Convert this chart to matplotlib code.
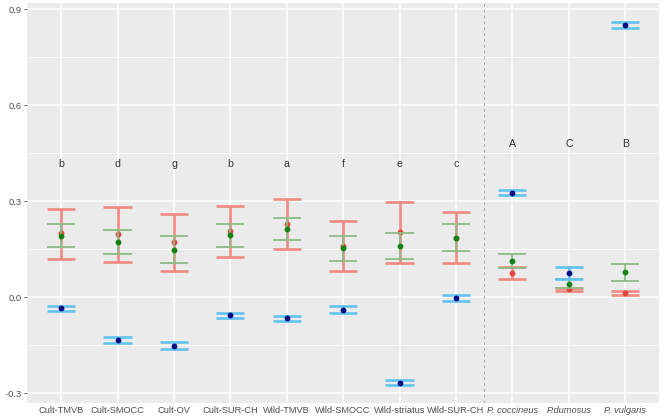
import matplotlib
matplotlib.use("Agg")
import matplotlib.pyplot as plt
import numpy as np

categories = ['Cult-TMVB', 'Cult-SMOCC', 'Cult-OV', 'Cult-SUR-CH', 'Wild-TMVB',
              'Wild-SMOCC', 'Wild-striatus', 'Wild-SUR-CH',
              'P. coccineus', 'P.dumosus', 'P. vulgaris']
italic_flags = [False] * 8 + [True] * 3

red_mean = [0.199, 0.196, 0.171, 0.205, 0.227, 0.159, 0.202, 0.185, 0.076, 0.024, 0.012]
red_lo = [0.119, 0.111, 0.081, 0.126, 0.150, 0.080, 0.107, 0.105, 0.057, 0.019, 0.006]
red_hi = [0.276, 0.281, 0.260, 0.284, 0.305, 0.238, 0.298, 0.266, 0.094, 0.028, 0.018]

green_mean = [0.192, 0.172, 0.148, 0.194, 0.212, 0.153, 0.160, 0.185, 0.112, 0.042, 0.078]
green_lo = [0.155, 0.134, 0.107, 0.157, 0.179, 0.113, 0.118, 0.143, 0.092, 0.029, 0.051]
green_hi = [0.227, 0.210, 0.190, 0.229, 0.246, 0.192, 0.201, 0.227, 0.135, 0.058, 0.104]

blue_mean = [-0.035, -0.133, -0.152, -0.057, -0.066, -0.040, -0.268, -0.004, 0.326, 0.075, 0.851]
blue_lo = [-0.043, -0.143, -0.163, -0.066, -0.074, -0.050, -0.276, -0.013, 0.318, 0.057, 0.841]
blue_hi = [-0.027, -0.124, -0.141, -0.050, -0.058, -0.028, -0.258, 0.006, 0.335, 0.094, 0.861]

letters = ['b', 'd', 'g', 'b', 'a', 'f', 'e', 'c', 'A', 'C', 'B']
letter_y = [0.416] * 8 + [0.478] * 3

y_ticks = [-0.3, 0.0, 0.3, 0.6, 0.9]
y_minor = [-0.15, 0.15, 0.45, 0.75]

plt.rcParams['font.family'] = ['Liberation Sans', 'DejaVu Sans']

W, H = 666, 418
fig = plt.figure(figsize=(W / 100, H / 100), dpi=100)
left, right, top, bottom = 27.3, 659, 3, 402.7
ax = fig.add_axes([left / W, (H - bottom) / H, (right - left) / W, (bottom - top) / H])
ax.set_facecolor('#EBEBEB')
for s in ax.spines.values():
    s.set_visible(False)

x = np.arange(1, len(categories) + 1)
ax.set_xlim(0.4, len(categories) + 0.6)
ax.set_ylim(-0.330, 0.919)

# grid
for yv in y_minor:
    ax.axhline(yv, color='white', lw=0.55, zorder=0)
for yv in y_ticks:
    ax.axhline(yv, color='white', lw=1.1, zorder=0)
for xv in x:
    ax.axvline(xv, color='white', lw=1.1, zorder=0)

ax.axvline(8.5, color='#A8A8A8', lw=0.7, ls=(0, (3, 3)), zorder=1)

hw = 0.25

def draw_series(mean, lo, hi, line_col, pt_col, lw, z):
    ax.vlines(x, lo, hi, color=line_col, lw=lw, zorder=z)
    ax.hlines(lo, x - hw, x + hw, color=line_col, lw=lw, zorder=z)
    ax.hlines(hi, x - hw, x + hw, color=line_col, lw=lw, zorder=z)
    ax.plot(x, mean, 'o', color=pt_col, ms=4.2, mec='none', zorder=z + 0.5)

draw_series(red_mean, red_lo, red_hi, '#F08A82', '#E6453A', 1.9, 2)
draw_series(green_mean, green_lo, green_hi, '#8DBB86', '#138313', 1.3, 3)
draw_series(blue_mean, blue_lo, blue_hi, '#62C3F0', '#000C86', 1.9, 4)

for xi, t, yv in zip(x, letters, letter_y):
    ax.text(xi, yv, t, ha='center', va='center', fontsize=7.6, color='#333333', zorder=5)

ax.set_xticks(x)
ax.set_xticklabels(categories)
for lab, it in zip(ax.get_xticklabels(), italic_flags):
    if it:
        lab.set_fontstyle('italic')
ax.set_yticks(y_ticks)
ax.set_yticklabels(['-0.3', '0.0', '0.3', '0.6', '0.9'])
ax.tick_params(axis='both', labelsize=6.7, labelcolor='#4D4D4D', color='#4D4D4D',
               length=2.5, width=0.6, pad=1.5)
ax.tick_params(axis='x', length=0, pad=2.5)

fig.savefig('out.png', dpi=100, facecolor='white')
